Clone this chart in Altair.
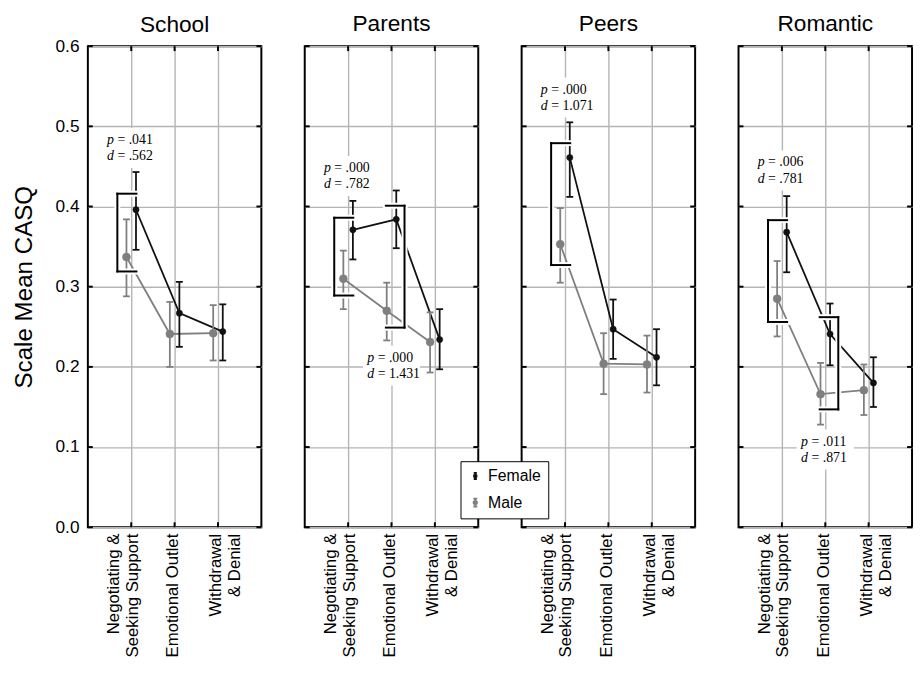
import json
import altair as alt
import pandas as pd

# ---------------- data ----------------
panels = ["School", "Parents", "Peers", "Romantic"]
cat_labels = [["Negotiating &", "Seeking Support"], ["Emotional Outlet"], ["Withdrawal", "& Denial"]]
sexes = ["Female", "Male"]

female_mean = [[0.396, 0.267, 0.244], [0.371, 0.384, 0.234], [0.461, 0.247, 0.212], [0.368, 0.241, 0.180]]
female_low = [[0.346, 0.225, 0.208], [0.334, 0.348, 0.197], [0.412, 0.210, 0.177], [0.318, 0.202, 0.150]]
female_high = [[0.443, 0.306, 0.278], [0.407, 0.420, 0.272], [0.505, 0.284, 0.247], [0.413, 0.279, 0.212]]
male_mean = [[0.337, 0.241, 0.242], [0.310, 0.270, 0.231], [0.353, 0.204, 0.203], [0.285, 0.166, 0.171]]
male_low = [[0.288, 0.200, 0.208], [0.272, 0.233, 0.193], [0.305, 0.166, 0.168], [0.238, 0.128, 0.140]]
male_high = [[0.384, 0.281, 0.277], [0.345, 0.305, 0.268], [0.398, 0.242, 0.239], [0.332, 0.205, 0.203]]

# significance brackets
bracket_panel = ["School", "Parents", "Parents", "Peers", "Romantic", "Romantic"]
bracket_cat = [1, 1, 2, 1, 1, 2]
bracket_top = [0.416, 0.386, 0.401, 0.479, 0.383, 0.262]
bracket_bottom = [0.319, 0.289, 0.249, 0.327, 0.256, 0.147]
bracket_side = ["left", "left", "right", "left", "left", "right"]

# annotations
ann_y = [0.473, 0.438, 0.2015, 0.536, 0.445, 0.097]
ann_p = [".041", ".000", ".000", ".000", ".006", ".011"]
ann_d = [".562", ".782", "1.431", "1.071", ".781", ".871"]

y_ticks = [0.0, 0.1, 0.2, 0.3, 0.4, 0.5, 0.6]
x_ticks = [1, 2, 3]

# ---------------- layout / style ----------------
W, H = 176, 488
DODGE = {"Female": 0.11, "Male": -0.11}
BLACK = "#111111"
GRAY = "#7f7f7f"
CLR = {"Female": BLACK, "Male": GRAY}
sex_scale = alt.Scale(domain=sexes, range=[BLACK, GRAY])
size_scale = alt.Scale(domain=sexes, range=[40, 65])
xscale = alt.Scale(domain=[0, 4], nice=False, zero=False)
yscale = alt.Scale(domain=[0, 0.6], nice=False)

rows = []
for pi, p in enumerate(panels):
    for ci in range(3):
        for s, m, lo, hi in (("Female", female_mean, female_low, female_high),
                             ("Male", male_mean, male_low, male_high)):
            rows.append(dict(panel=p, sex=s, clr=CLR[s], x=ci + 1 + DODGE[s],
                             y=m[pi][ci], lo=lo[pi][ci], hi=hi[pi][ci]))
df = pd.DataFrame(rows)
caps = pd.concat([
    df[["panel", "sex", "clr", "x"]].assign(v=df["lo"]),
    df[["panel", "sex", "clr", "x"]].assign(v=df["hi"]),
])

seg = []
for b in range(len(bracket_panel)):
    c = bracket_cat[b]
    if bracket_side[b] == "left":
        xv, xa, xb = c - 0.32, c - 0.32, c + 0.12
    else:
        xv, xa, xb = c + 0.30, c - 0.13, c + 0.30
    t, bt = bracket_top[b], bracket_bottom[b]
    seg.append(dict(panel=bracket_panel[b], x=xv, x2=xv, y=t, y2=bt))
    seg.append(dict(panel=bracket_panel[b], x=xa, x2=xb, y=t, y2=t))
    seg.append(dict(panel=bracket_panel[b], x=xa, x2=xb, y=bt, y2=bt))
seg_df = pd.DataFrame(seg)

ann_df = pd.DataFrame(dict(panel=bracket_panel, x=bracket_cat, y=ann_y,
                           prest=["= " + v for v in ann_p],
                           drest=["= " + v for v in ann_d]))
yt_df = pd.DataFrame(dict(v=y_ticks))
xt_df = pd.DataFrame(dict(v=x_ticks))

label_expr = ("datum.value == 1 ? %s : (datum.value == 2 ? %s : %s)"
              % tuple(json.dumps(l) for l in cat_labels))

LEG_PATH = ("M0,-1V1M-0.5,-1H0.5M-0.5,1H0.5"
            "M-0.42,0A0.42,0.42,0,1,1,0.42,0A0.42,0.42,0,1,1,-0.42,0Z")
BOX_PATH = "M-1,-0.7H1V0.7H-1Z"
SERIF = "Liberation Serif"
SANS = "Liberation Sans"

LEG = alt.Legend(title=None, orient="none", legendX=378, legendY=421,
                 symbolType=LEG_PATH, symbolSize=200, symbolStrokeWidth=2,
                 labelFontSize=16, labelFont=SANS, labelColor="black",
                 strokeColor="black", fillColor="white", padding=7,
                 rowPadding=10, labelOffset=5, cornerRadius=0)


def panel_chart(pi):
    p = panels[pi]
    first = pi == 0
    d = df[df.panel == p]
    cd = caps[caps.panel == p]
    sd = seg_df[seg_df.panel == p]
    ad = ann_df[ann_df.panel == p]

    xax = alt.Axis(values=x_ticks, labelExpr=label_expr, grid=True, ticks=False,
                   domain=False, labelAngle=270, labelAlign="right",
                   labelBaseline="middle", labelFontSize=17, labelPadding=6,
                   labelLineHeight=19, title=None,
                   labelOffset={"condition": {"test": "datum.value == 1", "value": -18},
                                "value": -2})
    ykw = dict(values=y_ticks, format=".1f", grid=True, ticks=False, domain=False,
               labels=first, labelFontSize=17.5, labelPadding=9)
    if first:
        ykw.update(title="Scale Mean CASQ", titleFontSize=24.5, titlePadding=19)
    else:
        ykw.update(title=None)
    yax = alt.Axis(**ykw)

    def X(f):
        return alt.X(f, scale=xscale, axis=xax)

    def Y(f):
        return alt.Y(f, scale=yscale, axis=yax)

    col = alt.Color("clr:N", scale=None)

    tick_l = alt.Chart(yt_df).mark_rule(color="black", strokeWidth=2).encode(
        y=Y("v:Q"), x=alt.value(0), x2=alt.value(5))
    tick_r = alt.Chart(yt_df).mark_rule(color="black", strokeWidth=2).encode(
        y=Y("v:Q"), x=alt.value(W - 5), x2=alt.value(W))
    tick_t = alt.Chart(xt_df).mark_rule(color="black", strokeWidth=2).encode(
        x=X("v:Q"), y=alt.value(0), y2=alt.value(5))
    tick_b = alt.Chart(xt_df).mark_rule(color="black", strokeWidth=2).encode(
        x=X("v:Q"), y=alt.value(H - 5), y2=alt.value(H))

    lines = alt.Chart(d).mark_line(strokeWidth=1.8).encode(
        x=X("x:Q"), y=Y("y:Q"), color=col, detail="sex:N", order="x:Q")

    txt_box = alt.Chart(ad).mark_point(shape=BOX_PATH, filled=True, color="white",
                                       opacity=1, size=3364, strokeWidth=0).encode(
        x=X("x:Q"), y=Y("y:Q"))

    ebar = alt.Chart(d).mark_rule(strokeWidth=1.8).encode(
        x=X("x:Q"), y=Y("lo:Q"), y2="hi:Q", color=col)
    ecap = alt.Chart(cd).mark_tick(orient="horizontal", size=7, thickness=1.8, opacity=1).encode(
        x=X("x:Q"), y=Y("v:Q"), color=col)

    pts = alt.Chart(d).mark_point(filled=True, opacity=1, strokeWidth=0.5).encode(
        x=X("x:Q"), y=Y("y:Q"),
        color=alt.Color("sex:N", scale=sex_scale, legend=LEG),
        stroke=alt.Stroke("sex:N", scale=sex_scale, legend=LEG),
        size=alt.Size("sex:N", scale=size_scale, legend=None))

    br_halo = alt.Chart(sd).mark_rule(color="white", strokeWidth=6, strokeCap="square").encode(
        x=X("x:Q"), x2="x2:Q", y=Y("y:Q"), y2="y2:Q")
    br = alt.Chart(sd).mark_rule(color="black", strokeWidth=2, strokeCap="square").encode(
        x=X("x:Q"), x2="x2:Q", y=Y("y:Q"), y2="y2:Q")

    tbase = alt.Chart(ad)
    common = dict(font=SERIF, fontSize=14, baseline="middle", color="black")
    p_let = tbase.mark_text(align="right", dx=-17.5, dy=-8, fontStyle="italic", **common).encode(
        x=X("x:Q"), y=Y("y:Q"), text=alt.value("p"))
    p_rest = tbase.mark_text(align="left", dx=-14, dy=-8, **common).encode(
        x=X("x:Q"), y=Y("y:Q"), text="prest:N")
    d_let = tbase.mark_text(align="right", dx=-17.5, dy=8.5, fontStyle="italic", **common).encode(
        x=X("x:Q"), y=Y("y:Q"), text=alt.value("d"))
    d_rest = tbase.mark_text(align="left", dx=-14, dy=8.5, **common).encode(
        x=X("x:Q"), y=Y("y:Q"), text="drest:N")

    return alt.layer(
        lines, tick_l, tick_r, tick_t, tick_b, txt_box, ebar, ecap, pts,
        br_halo, br, p_let, p_rest, d_let, d_rest
    ).properties(
        width=W, height=H,
        title=alt.TitleParams(text=p, fontSize=23, font=SANS, fontWeight="normal",
                              color="black", offset=0 if first else 9, anchor="middle"))


chart = alt.hconcat(*[panel_chart(i) for i in range(4)], spacing=40).resolve_scale(
    color="shared", stroke="shared", size="shared"
).properties(
    padding={"left": 2, "top": 0, "right": 0, "bottom": 0}
).configure_view(
    stroke="black", strokeWidth=2
).configure_axis(
    gridColor="#b5b5b5", gridWidth=1.4, labelFont=SANS,
    titleFont=SANS, labelColor="black", titleColor="black",
    titleFontWeight="normal"
)

chart.save("out.html", embed_options={"renderer": "svg", "actions": False})
